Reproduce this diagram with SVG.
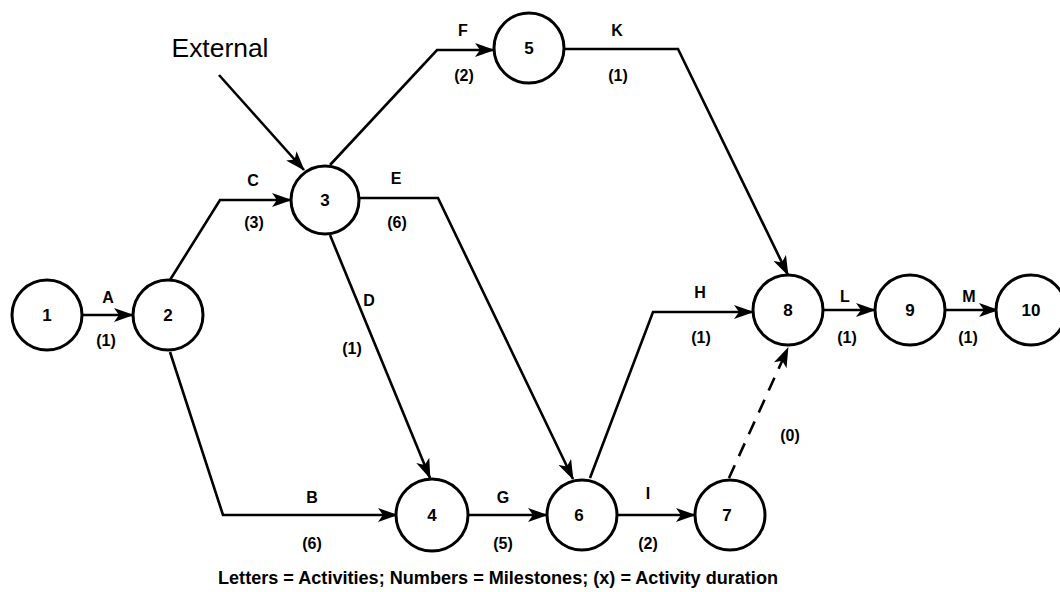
<svg xmlns="http://www.w3.org/2000/svg" width="1060" height="592" viewBox="0 0 1060 592">
<style>
.node circle{fill:#fff;stroke:#000;stroke-width:3}
.node text{font-family:"Liberation Sans",Arial,sans-serif;font-weight:bold;font-size:17px;text-anchor:middle;fill:#000}
.edge{fill:none;stroke:#000;stroke-width:2.6;stroke-linejoin:miter}
.dash{stroke-dasharray:14 10}
.lbl{font-family:"Liberation Sans",Arial,sans-serif;font-weight:bold;font-size:16px;text-anchor:middle;fill:#000}
</style>
<defs>
<marker id="arr" viewBox="0 0 20 14" refX="19" refY="7" markerWidth="20" markerHeight="14" markerUnits="userSpaceOnUse" orient="auto">
<path d="M0,0 L20,7 L0,14 L5,7 z" fill="#000"/>
</marker>
</defs>
<rect width="1060" height="592" fill="#fff"/>
<g id="connectors">
<line class="edge" x1="82" y1="315" x2="133" y2="315" marker-end="url(#arr)"/>
<polyline class="edge" points="170,280 220,200 291,200" marker-end="url(#arr)"/>
<line class="edge" x1="219" y1="75" x2="304" y2="170" marker-end="url(#arr)"/>
<polyline class="edge" points="330,165 437,50 494,50" marker-end="url(#arr)"/>
<polyline class="edge" points="565,49 678,49 788,275" marker-end="url(#arr)"/>
<polyline class="edge" points="359,198 438,198 573,479" marker-end="url(#arr)"/>
<line class="edge" x1="330" y1="235" x2="430" y2="478" marker-end="url(#arr)"/>
<polyline class="edge" points="170,352 223,515 397,515" marker-end="url(#arr)"/>
<line class="edge" x1="468" y1="515" x2="547" y2="515" marker-end="url(#arr)"/>
<line class="edge" x1="617" y1="515" x2="695" y2="515" marker-end="url(#arr)"/>
<polyline class="edge" points="590,478 653,312 753,312" marker-end="url(#arr)"/>
<line class="edge dash" x1="729" y1="478" x2="788" y2="348" marker-end="url(#arr)"/>
<line class="edge" x1="823" y1="310" x2="875" y2="310" marker-end="url(#arr)"/>
<line class="edge" x1="945" y1="310" x2="998" y2="310" marker-end="url(#arr)"/>
</g>
<g id="labels">
<text x="220" y="57" font-family="'Liberation Sans',Arial,sans-serif" font-size="25" text-anchor="middle" textLength="97" lengthAdjust="spacingAndGlyphs">External</text>
<text class="lbl" x="108" y="303">A</text><text class="lbl" x="106" y="346">(1)</text>
<text class="lbl" x="253" y="186">C</text><text class="lbl" x="254" y="228">(3)</text>
<text class="lbl" x="463" y="36">F</text><text class="lbl" x="464" y="81">(2)</text>
<text class="lbl" x="617" y="36">K</text><text class="lbl" x="618" y="81">(1)</text>
<text class="lbl" x="396" y="184">E</text><text class="lbl" x="397" y="228">(6)</text>
<text class="lbl" x="369" y="306">D</text><text class="lbl" x="352" y="354">(1)</text>
<text class="lbl" x="312" y="503">B</text><text class="lbl" x="312" y="549">(6)</text>
<text class="lbl" x="503" y="503">G</text><text class="lbl" x="503" y="549">(5)</text>
<text class="lbl" x="648" y="499">I</text><text class="lbl" x="648" y="549">(2)</text>
<text class="lbl" x="700" y="298">H</text><text class="lbl" x="701" y="343">(1)</text>
<text class="lbl" x="790" y="441">(0)</text>
<text class="lbl" x="845" y="302">L</text><text class="lbl" x="847" y="343">(1)</text>
<text class="lbl" x="969" y="302">M</text><text class="lbl" x="968" y="343">(1)</text>
<text x="498" y="584" font-family="'Liberation Sans',Arial,sans-serif" font-weight="bold" font-size="18" text-anchor="middle" textLength="560" lengthAdjust="spacingAndGlyphs">Letters = Activities; Numbers = Milestones; (x) = Activity duration</text>
</g>
<g id="n1" class="node"><circle cx="47" cy="315" r="35"/><text x="47" y="321">1</text></g>
<g id="n2" class="node"><circle cx="168" cy="315" r="35"/><text x="168" y="321">2</text></g>
<g id="n3" class="node"><circle cx="325" cy="200" r="34"/><text x="325" y="206">3</text></g>
<g id="n4" class="node"><circle cx="432" cy="515" r="36"/><text x="432" y="521">4</text></g>
<g id="n5" class="node"><circle cx="529" cy="48" r="35"/><text x="529" y="54">5</text></g>
<g id="n6" class="node"><circle cx="582" cy="515" r="35"/><text x="579" y="521">6</text></g>
<g id="n7" class="node"><circle cx="730" cy="515" r="35"/><text x="727" y="521">7</text></g>
<g id="n8" class="node"><circle cx="788" cy="310" r="35"/><text x="788" y="316">8</text></g>
<g id="n9" class="node"><circle cx="910" cy="310" r="35"/><text x="910" y="316">9</text></g>
<g id="n10" class="node"><circle cx="1031" cy="310" r="35"/><text x="1031" y="316">10</text></g>
</svg>
